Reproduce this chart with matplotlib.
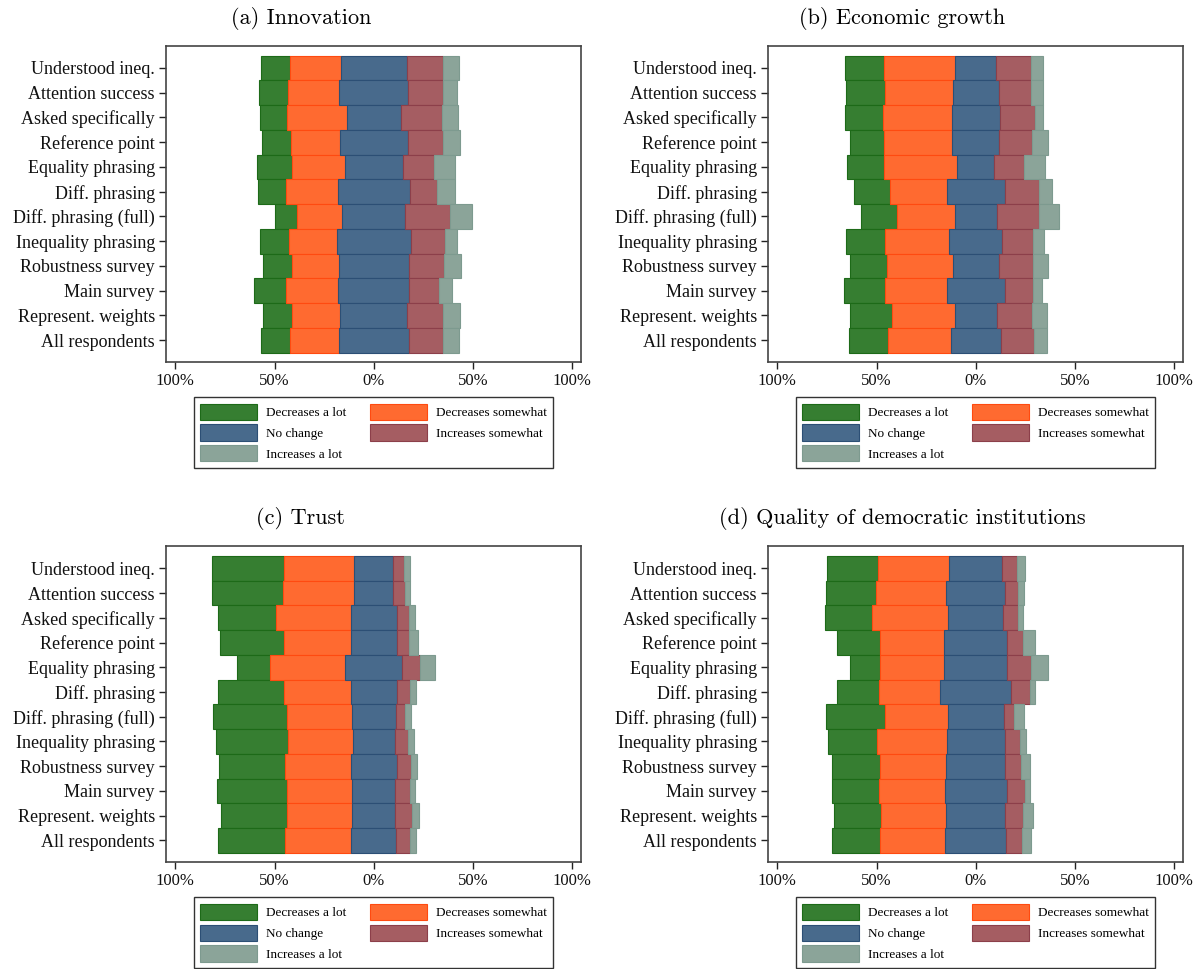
import matplotlib
matplotlib.use("Agg")
import matplotlib.pyplot as plt
import numpy as np
from matplotlib.patches import Patch

categories = ["Understood ineq.", "Attention success", "Asked specifically", "Reference point",
              "Equality phrasing", "Diff. phrasing", "Diff. phrasing (full)", "Inequality phrasing",
              "Robustness survey", "Main survey", "Represent. weights", "All respondents"]
responses = ["Decreases a lot", "Decreases somewhat", "No change", "Increases somewhat", "Increases a lot"]
tick_values = [-100, -50, 0, 50, 100]
tick_labels = ["100%", "50%", "0%", "50%", "100%"]
titles = ["(a) Innovation", "(b) Economic growth", "(c) Trust", "(d) Quality of democratic institutions"]

# shares (%) per category, in order: dec. a lot, dec. somewhat, no change, inc. somewhat, inc. a lot
innovation = [
    [14.6, 25.7, 33.1, 18.5, 7.7],
    [14.5, 26.0, 34.8, 17.6, 6.9],
    [13.4, 30.3, 27.3, 21.0, 7.8],
    [14.2, 24.7, 34.5, 17.6, 8.6],
    [17.3, 26.8, 29.0, 15.8, 10.9],
    [14.3, 26.1, 36.2, 13.7, 9.4],
    [11.3, 22.5, 31.9, 22.7, 11.1],
    [14.5, 24.2, 37.4, 17.2, 6.2],
    [14.2, 23.9, 35.1, 17.8, 8.8],
    [15.9, 26.4, 35.9, 14.7, 6.9],
    [14.8, 24.3, 33.6, 18.2, 8.7],
    [14.5, 24.5, 35.3, 17.3, 8.1],
]
economic_growth = [
    [19.6, 35.7, 20.7, 17.3, 6.3],
    [19.9, 33.9, 23.2, 16.1, 6.4],
    [19.0, 34.6, 24.4, 17.6, 3.9],
    [17.0, 34.5, 23.7, 16.6, 8.1],
    [18.5, 37.0, 18.5, 15.1, 10.6],
    [18.5, 28.4, 29.2, 17.5, 6.1],
    [18.0, 29.2, 21.4, 21.3, 10.1],
    [19.8, 32.5, 26.5, 15.6, 5.4],
    [18.9, 32.9, 23.2, 17.5, 7.5],
    [20.7, 31.0, 29.0, 14.2, 4.7],
    [21.3, 31.6, 21.4, 17.9, 7.4],
    [19.7, 31.9, 25.0, 16.7, 6.7],
]
trust = [
    [36.2, 35.3, 19.8, 5.5, 2.9],
    [35.8, 35.7, 19.6, 6.2, 2.2],
    [29.3, 37.8, 23.2, 6.4, 3.0],
    [32.3, 33.4, 23.2, 6.0, 4.6],
    [16.8, 37.6, 28.9, 9.1, 7.2],
    [33.3, 33.4, 23.2, 6.6, 3.3],
    [37.4, 32.5, 22.0, 4.9, 2.7],
    [36.6, 32.5, 21.0, 7.0, 2.6],
    [32.9, 33.3, 23.2, 7.1, 3.0],
    [35.4, 32.6, 21.9, 7.1, 2.8],
    [33.6, 32.6, 21.9, 8.1, 3.7],
    [33.8, 33.2, 22.9, 6.6, 3.3],
]
democracy = [
    [25.7, 35.7, 26.8, 7.6, 4.0],
    [25.4, 35.5, 29.6, 6.5, 3.0],
    [23.7, 38.4, 27.7, 7.2, 2.7],
    [21.8, 32.1, 32.0, 8.0, 6.1],
    [15.3, 32.1, 32.0, 11.6, 9.0],
    [21.0, 31.1, 35.8, 9.3, 2.8],
    [29.6, 31.8, 28.0, 5.3, 5.2],
    [24.7, 35.0, 29.4, 7.7, 3.0],
    [24.0, 33.6, 29.8, 7.7, 4.9],
    [23.3, 33.3, 31.4, 8.9, 2.9],
    [23.7, 32.6, 29.8, 8.9, 4.9],
    [23.7, 33.2, 30.6, 8.1, 4.2],
]

fills = ["#367e31", "#ff6a30", "#486a8c", "#a55d62", "#8ba499"]
edges = ["#1d6a18", "#ff4a10", "#2c4f75", "#8c3f4a", "#7d9a8f"]

plt.rcParams["font.family"] = ["Liberation Serif", "DejaVu Serif"]

fig = plt.figure(figsize=(12.03, 9.69), dpi=100)
W, H = 1203.0, 969.0
axes_px = [(166, 45.7), (768, 45.7), (166, 546), (768, 546)]
aw, ah = 414.7, 316.0
panels = [innovation, economic_growth, trust, democracy]
title_y = [18, 18, 518, 518]
title_x = [0.25, 0.75, 0.25, 0.75]

for k, data in enumerate(panels):
    x0, y0 = axes_px[k]
    ax = fig.add_axes([x0 / W, 1 - (y0 + ah) / H, aw / W, ah / H])
    arr = np.array(data)
    n = len(categories)
    ypos = np.arange(n)[::-1]
    start = -(arr[:, 0] + arr[:, 1] + arr[:, 2] / 2.0)
    left = start.copy()
    for j in range(5):
        ax.barh(ypos, arr[:, j], left=left, height=1.0, color=fills[j],
                edgecolor=edges[j], linewidth=0.8, label=responses[j], zorder=2)
        left = left + arr[:, j]
    ax.set_xlim(-104.7, 104.3)
    ax.set_ylim(-0.87, n - 1 + 0.9)
    ax.set_yticks(ypos)
    ax.set_yticklabels(categories, fontsize=13)
    ax.set_xticks(tick_values)
    ax.set_xticklabels(tick_labels, fontsize=12)
    ax.tick_params(axis="both", direction="out", length=5, width=1, color="#222222",
                   pad=3, labelcolor="#111111")
    for s in ax.spines.values():
        s.set_color("#444444")
        s.set_linewidth(1.2)
    handles = [Patch(facecolor=fills[j], edgecolor=edges[j], linewidth=0.8) for j in range(5)]
    order = [0, 2, 4, 1, 3]
    leg = ax.legend([handles[i] for i in order], [responses[i] for i in order],
                    loc="upper center", bbox_to_anchor=(0.5, -0.112), ncol=2,
                    fontsize=9.5, frameon=True, fancybox=False, edgecolor="black",
                    handlelength=4.3, handleheight=1.5, columnspacing=1.85,
                    handletextpad=0.65, labelspacing=0.35, borderpad=0.5,
                    borderaxespad=0.0)
    leg.get_frame().set_linewidth(1.0)
    fig.text(title_x[k], 1 - title_y[k] / H, titles[k], family="cmr10",
             fontsize=16, ha="center", va="center")

fig.savefig("out.png", dpi=100)
